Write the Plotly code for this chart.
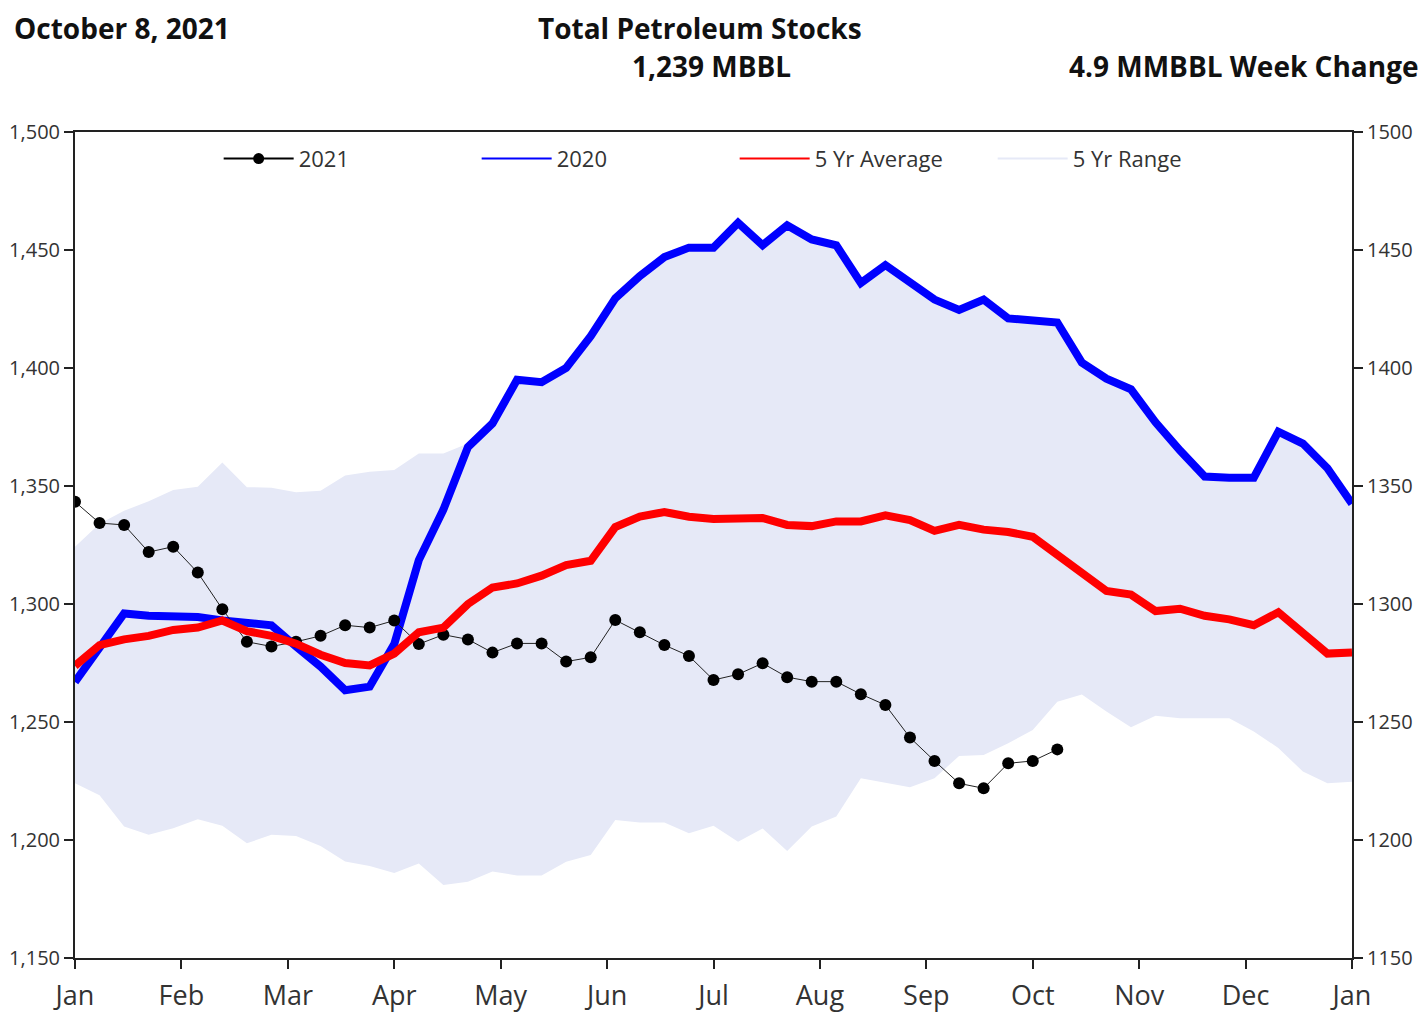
import plotly.graph_objects as go

# ---------------- DATA ----------------
months = ["Jan", "Feb", "Mar", "Apr", "May", "Jun", "Jul", "Aug", "Sep", "Oct", "Nov", "Dec", "Jan"]

weeks_2021 = list(range(41))
stocks_2021 = [1343.3, 1334.3, 1333.5, 1322.0, 1324.3, 1313.3, 1297.8, 1284.0, 1282.0, 1284.0,
               1286.5, 1291.0, 1290.0, 1293.0, 1283.0, 1287.0, 1285.0, 1279.4, 1283.3, 1283.3,
               1275.6, 1277.4, 1293.2, 1288.0, 1282.6, 1278.0, 1267.8, 1270.2, 1274.9, 1269.0,
               1267.1, 1267.1, 1261.8, 1257.2, 1243.4, 1233.5, 1224.0, 1221.9, 1232.5, 1233.5,
               1238.4]

weeks_full = list(range(53))
stocks_2020 = [1267.0, 1282.0, 1296.0, 1295.0, 1295.0, 1294.5, 1293.0, 1292.0, 1291.0, 1282.0,
               1273.5, 1263.5, 1265.0, 1283.0, 1318.6, 1340.0, 1366.5, 1376.5, 1395.0, 1394.0,
               1400.0, 1413.5, 1429.5, 1439.0, 1447.0, 1451.0, 1451.0, 1461.5, 1452.0, 1460.5,
               1454.5, 1452.0, 1436.0, 1443.6, 1436.0, 1429.0, 1424.6, 1429.0, 1421.0, 1420.0,
               1419.3, 1402.3, 1395.5, 1391.0, 1377.0, 1365.0, 1354.0, 1353.5, 1353.5, 1373.0,
               1368.0, 1357.5, 1342.5]

avg_5yr = [1273.8, 1282.6, 1285.0, 1286.5, 1289.0, 1290.0, 1293.0, 1288.5, 1286.5, 1283.2,
           1278.5, 1275.0, 1274.0, 1279.0, 1288.0, 1290.0, 1300.0, 1307.0, 1308.7, 1312.0,
           1316.5, 1318.3, 1332.6, 1337.0, 1339.0, 1337.0, 1336.0, 1336.0, 1336.4, 1333.5,
           1333.0, 1335.0, 1335.0, 1337.6, 1335.6, 1331.0, 1333.5, 1331.5, 1330.5, 1328.5,
           1320.5, 1313.0, 1305.5, 1304.0, 1297.0, 1298.0, 1295.0, 1293.5, 1291.0, 1296.5,
           1288.0, 1279.0, 1279.5]

range_high = [1324.3, 1334.0, 1339.5, 1343.5, 1348.3, 1349.7, 1360.0, 1349.5, 1349.3, 1347.3,
              1348.0, 1354.5, 1356.0, 1356.8, 1363.8, 1363.8, 1368.0, 1376.5, 1395.0, 1394.0,
              1400.0, 1413.5, 1429.5, 1439.0, 1447.0, 1451.0, 1451.0, 1461.5, 1452.0, 1460.5,
              1454.5, 1452.0, 1436.0, 1443.6, 1436.0, 1429.0, 1424.6, 1429.0, 1421.0, 1420.0,
              1419.3, 1402.3, 1395.5, 1391.0, 1377.0, 1365.0, 1354.0, 1353.5, 1353.5, 1373.0,
              1368.0, 1357.5, 1342.5]

range_low = [1224.0, 1219.0, 1205.7, 1202.2, 1205.0, 1208.8, 1206.0, 1198.6, 1202.2, 1201.7,
             1197.5, 1190.9, 1189.0, 1186.0, 1190.0, 1180.9, 1182.3, 1186.6, 1185.0, 1185.0,
             1190.8, 1193.6, 1208.5, 1207.4, 1207.4, 1202.9, 1206.0, 1199.3, 1204.9, 1195.3,
             1205.7, 1210.0, 1226.2, 1224.4, 1222.4, 1226.2, 1235.6, 1236.0, 1241.0, 1246.6,
             1258.6, 1261.7, 1254.4, 1247.8, 1252.7, 1251.6, 1251.6, 1251.6, 1246.0, 1239.0,
             1229.0, 1224.0, 1224.7]

y_ticks = [1150, 1200, 1250, 1300, 1350, 1400, 1450, 1500]

# ---------------- STYLE ----------------
FONT = "Open Sans"
RANGE_COLOR = "rgb(230,233,247)"
AXIS_COLOR = "#222222"
TEXT_COLOR = "#333333"
n_weeks = 52
month_pos = [n_weeks * k / 12 for k in range(13)]

# page offset (browser body margin) and target plot box in page pixels
OFF = 8
PL, PR, PT, PB = 75, 1352, 132, 958
W, H = 1428 - OFF, 1015 - OFF

fig = go.Figure()

# 5 Yr range band
fig.add_trace(go.Scatter(x=weeks_full, y=range_low, mode="lines", line=dict(width=0, color=RANGE_COLOR),
                         showlegend=False, hoverinfo="skip"))
fig.add_trace(go.Scatter(x=weeks_full, y=range_high, mode="lines", line=dict(width=0, color=RANGE_COLOR),
                         fill="tonexty", fillcolor=RANGE_COLOR, showlegend=False, hoverinfo="skip"))

# 2020
fig.add_trace(go.Scatter(x=weeks_full, y=stocks_2020, mode="lines", name="2020",
                         line=dict(color="#0000ff", width=8), showlegend=False))
# 2021
fig.add_trace(go.Scatter(x=weeks_2021, y=stocks_2021, mode="lines+markers", name="2021",
                         line=dict(color="#222222", width=1),
                         marker=dict(color="black", size=12), showlegend=False))
# 5 Yr average
fig.add_trace(go.Scatter(x=weeks_full, y=avg_5yr, mode="lines", name="5 Yr Average",
                         line=dict(color="#ff0000", width=8), showlegend=False))

# legend-only entries (thin symbols as in the original)
fig.add_trace(go.Scatter(x=[None], y=[None], mode="lines+markers", name="2021",
                         line=dict(color="black", width=2), marker=dict(color="black", size=11),
                         legendrank=1))
fig.add_trace(go.Scatter(x=[None], y=[None], mode="lines", name="2020",
                         line=dict(color="#0000ff", width=2), legendrank=2))
fig.add_trace(go.Scatter(x=[None], y=[None], mode="lines", name="5 Yr Average",
                         line=dict(color="#ff0000", width=2), legendrank=3))
fig.add_trace(go.Scatter(x=[None], y=[None], mode="lines", name="5 Yr Range",
                         line=dict(color=RANGE_COLOR, width=2), legendrank=4))

# invisible trace for right axis
fig.add_trace(go.Scatter(x=[0], y=[1150], yaxis="y2", mode="markers",
                         marker=dict(opacity=0), showlegend=False, hoverinfo="skip"))

fig.update_layout(
    width=W, height=H,
    margin=dict(l=PL - OFF, r=W - (PR - OFF), t=PT - OFF, b=H - (PB - OFF), pad=0, autoexpand=False),
    paper_bgcolor="white", plot_bgcolor="white",
    font=dict(family=FONT, color=TEXT_COLOR, size=20),
    showlegend=True,
    legend=dict(orientation="h", x=0.1125, y=0.993, xanchor="left", yanchor="top",
                bgcolor="rgba(0,0,0,0)", font=dict(size=22, color=TEXT_COLOR),
                itemwidth=70, entrywidth=173, traceorder="normal"),
    xaxis=dict(range=[0, n_weeks], tickmode="array", tickvals=month_pos, ticktext=months,
               automargin=False, ticklabelstandoff=4,
               showgrid=False, zeroline=False, showline=True, linecolor=AXIS_COLOR, linewidth=2,
               mirror=True, ticks="outside", ticklen=9, tickcolor=AXIS_COLOR, tickwidth=1.5,
               tickfont=dict(size=27, color=TEXT_COLOR)),
    yaxis=dict(range=[1150, 1500], tickmode="array", tickvals=y_ticks, tickformat=",",
               automargin=False,
               showgrid=False, zeroline=False, showline=True, linecolor=AXIS_COLOR, linewidth=2,
               ticks="outside", ticklen=9, tickcolor=AXIS_COLOR, tickwidth=1.5,
               tickfont=dict(size=20, color=TEXT_COLOR)),
    yaxis2=dict(range=[1150, 1500], tickmode="array", tickvals=y_ticks, tickformat="d",
                automargin=False,
                overlaying="y", side="right", showgrid=False, zeroline=False, showline=True,
                linecolor=AXIS_COLOR, linewidth=2, ticks="outside", ticklen=9,
                tickcolor=AXIS_COLOR, tickwidth=1.5, tickfont=dict(size=20, color=TEXT_COLOR)),
)

title_font = dict(family=FONT, size=28, color="#111111")
annots = [
    dict(text="<b>October 8, 2021</b>", x=12, y=28, xanchor="left"),
    dict(text="<b>Total Petroleum Stocks</b>", x=700, y=28, xanchor="center"),
    dict(text="<b>1,239 MBBL</b>", x=711, y=66, xanchor="center"),
    dict(text="<b>4.9 MMBBL Week Change</b>", x=1421, y=66, xanchor="right"),
]
for a in annots:
    fig.add_annotation(text=a["text"], xref="paper", yref="paper",
                       x=(a["x"] - PL) / (PR - PL), y=(PB - a["y"]) / (PB - PT),
                       xanchor=a["xanchor"], yanchor="middle", showarrow=False, font=title_font)

fig.write_html("out.html")
